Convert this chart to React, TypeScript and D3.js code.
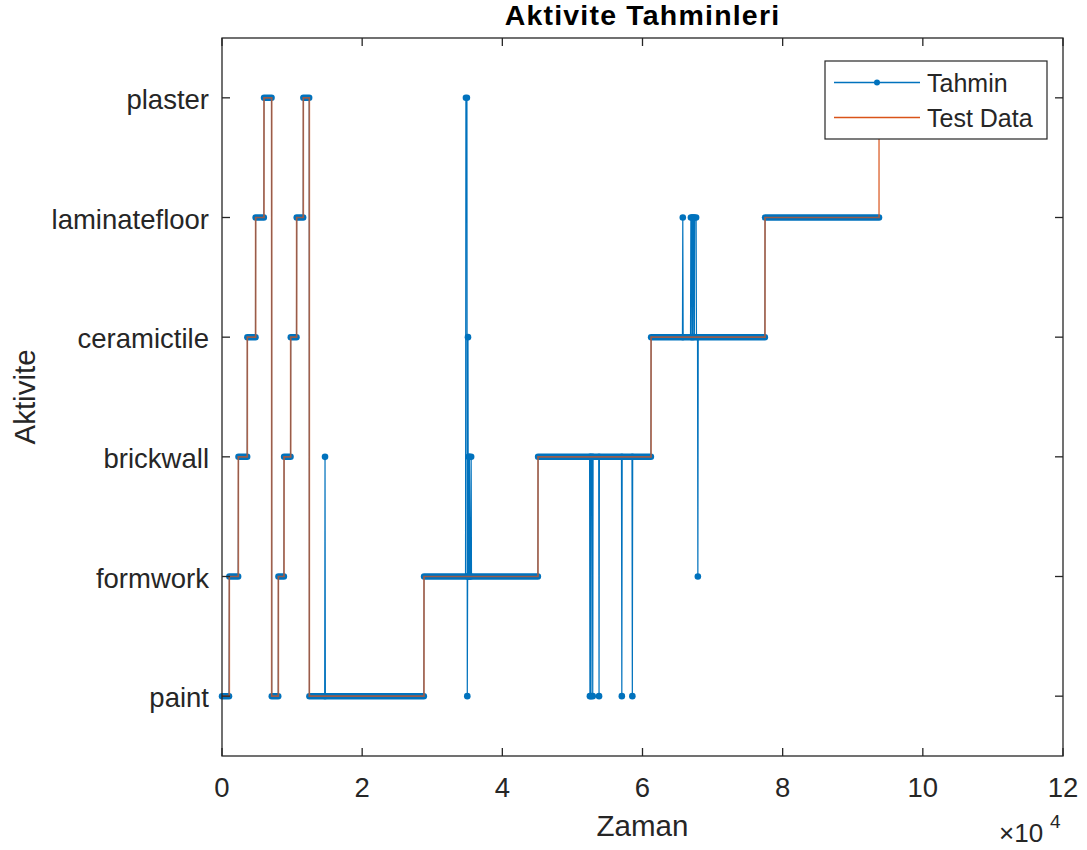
import React from "react";
import * as d3 from "d3";

const W = 1087;
const H = 850;

const categories = ["paint", "formwork", "brickwall", "ceramictile", "laminatefloor", "plaster"];
const xTicks = [0, 20000, 40000, 60000, 80000, 100000, 120000];
const xTickLabels = ["0", "2", "4", "6", "8", "10", "12"];

// Test Data: the time at which each activity starts
const testTimes = [0, 1040, 2330, 3610, 4800, 5990, 7090, 8040, 8850, 9800, 10650, 11600, 12460, 28820, 45090, 61220, 77480, 93750];
const testClasses = [
  "paint", "formwork", "brickwall", "ceramictile", "laminatefloor", "plaster",
  "paint", "formwork", "brickwall", "ceramictile", "laminatefloor", "plaster",
  "paint", "formwork", "brickwall", "ceramictile", "laminatefloor", "plaster",
];

// Tahmin: runs of the same predicted class [start, end, class]
const predRuns: [number, number, string][] = [
  [0, 1000, "paint"],
  [1050, 2300, "formwork"],
  [2350, 3590, "brickwall"],
  [3620, 4780, "ceramictile"],
  [4800, 5970, "laminatefloor"],
  [6000, 7070, "plaster"],
  [7100, 8020, "paint"],
  [8050, 8830, "formwork"],
  [8860, 9780, "brickwall"],
  [9810, 10630, "ceramictile"],
  [10660, 11580, "laminatefloor"],
  [11610, 12440, "plaster"],
  [12470, 14650, "paint"],
  [14700, 14700, "brickwall"],
  [14750, 28800, "paint"],
  [28830, 34750, "formwork"],
  [34800, 34950, "plaster"],
  [35000, 35000, "paint"],
  [35050, 35050, "formwork"],
  [35100, 35100, "ceramictile"],
  [35150, 35150, "formwork"],
  [35200, 35200, "brickwall"],
  [35250, 35250, "formwork"],
  [35300, 35300, "brickwall"],
  [35350, 35450, "formwork"],
  [35550, 35550, "brickwall"],
  [35600, 45070, "formwork"],
  [45100, 52450, "brickwall"],
  [52500, 52500, "paint"],
  [52550, 52600, "brickwall"],
  [52650, 52650, "paint"],
  [52700, 52850, "brickwall"],
  [52900, 52900, "paint"],
  [52950, 53750, "brickwall"],
  [53800, 53800, "paint"],
  [53850, 57000, "brickwall"],
  [57050, 57050, "paint"],
  [57100, 58500, "brickwall"],
  [58550, 58550, "paint"],
  [58600, 61200, "brickwall"],
  [61230, 65700, "ceramictile"],
  [65750, 65750, "laminatefloor"],
  [65800, 66850, "ceramictile"],
  [66900, 67000, "laminatefloor"],
  [67050, 67050, "ceramictile"],
  [67100, 67150, "laminatefloor"],
  [67200, 67200, "ceramictile"],
  [67250, 67350, "laminatefloor"],
  [67400, 67400, "ceramictile"],
  [67450, 67650, "laminatefloor"],
  [67700, 67850, "ceramictile"],
  [67900, 67900, "formwork"],
  [67950, 77460, "ceramictile"],
  [77490, 93750, "laminatefloor"],
];

const BLUE = "#0072BD";
const ORANGE = "#D95319";
const AXIS = "#262626";
const FONT = "'Liberation Sans', Arial, Helvetica, sans-serif";

export default function App() {
  const left = 222, right = 1063, top = 38, bottom = 756;
  const x = d3.scaleLinear().domain([0, 120000]).range([left, right]);
  const y = d3.scaleLinear().domain([0.5, 6.5]).range([bottom, top]);
  const yc = (c: string) => y(categories.indexOf(c) + 1);

  const predPts: [number, number][] = [];
  predRuns.forEach(([s, e, c]) => {
    predPts.push([x(s), yc(c)]);
    if (e > s) predPts.push([x(e), yc(c)]);
  });
  const predLine = d3.line()(predPts) || "";

  const testLine =
    d3
      .line<number>()
      .x((t) => x(t))
      .y((t, i) => yc(testClasses[i]))
      .curve(d3.curveStepAfter)(testTimes) || "";

  const tick = 8;

  return (
    <div style={{ position: "absolute", left: 0, top: 0 }}>
      <svg width={W} height={H} style={{ display: "block", background: "#fff" }} fontFamily={FONT}>
        <rect x={0} y={0} width={W} height={H} fill="#fff" />

        {/* prediction */}
        <path d={predLine} fill="none" stroke={BLUE} strokeWidth={1.2} />
        {predRuns
          .filter(([s, e]) => e > s)
          .map(([s, e, c], i) => (
            <line key={"b" + i} x1={x(s)} x2={x(e)} y1={yc(c)} y2={yc(c)} stroke={BLUE} strokeWidth={6.5} strokeLinecap="round" />
          ))}
        {predRuns
          .filter(([s, e]) => e === s)
          .map(([s, , c], i) => (
            <circle key={"d" + i} cx={x(s)} cy={yc(c)} r={3.3} fill={BLUE} />
          ))}

        {/* test data */}
        <path d={testLine} fill="none" stroke={ORANGE} strokeWidth={1.7} strokeOpacity={0.7} />

        {/* axes box */}
        <rect x={left} y={top} width={right - left} height={bottom - top} fill="none" stroke={AXIS} strokeWidth={1.3} />
        {xTicks.map((t, i) => (
          <g key={"xt" + i}>
            <line x1={x(t)} x2={x(t)} y1={bottom} y2={bottom - tick} stroke={AXIS} strokeWidth={1.3} />
            <line x1={x(t)} x2={x(t)} y1={top} y2={top + tick} stroke={AXIS} strokeWidth={1.3} />
            <text x={x(t)} y={797} textAnchor="middle" fontSize={27.5} fill={AXIS}>
              {xTickLabels[i]}
            </text>
          </g>
        ))}
        {categories.map((c, i) => (
          <g key={"yt" + i}>
            <line x1={left} x2={left + tick} y1={y(i + 1)} y2={y(i + 1)} stroke={AXIS} strokeWidth={1.3} />
            <line x1={right} x2={right - tick} y1={y(i + 1)} y2={y(i + 1)} stroke={AXIS} strokeWidth={1.3} />
            <text x={209} y={y(i + 1) + 11} textAnchor="end" fontSize={27.5} fill={AXIS}>
              {c}
            </text>
          </g>
        ))}

        {/* exponent */}
        <text x={999} y={842} fontSize={26} fill={AXIS}>
          ×10
        </text>
        <text x={1050} y={828} fontSize={19} fill={AXIS}>
          4
        </text>

        {/* labels */}
        <text x={(left + right) / 2} y={836} textAnchor="middle" fontSize={29.5} fill={AXIS}>
          Zaman
        </text>
        <text transform={`translate(35,${(top + bottom) / 2}) rotate(-90)`} textAnchor="middle" fontSize={29.5} fill={AXIS}>
          Aktivite
        </text>
        <text x={(left + right) / 2} y={25} textAnchor="middle" fontSize={28.5} fontWeight="bold" letterSpacing={1.2} fill="#000">
          Aktivite Tahminleri
        </text>

        {/* legend */}
        <g>
          <rect x={825} y={61} width={222} height={78} fill="#fff" stroke={AXIS} strokeWidth={1.2} />
          <line x1={834} x2={920} y1={82.5} y2={82.5} stroke={BLUE} strokeWidth={1.5} />
          <circle cx={877} cy={82.5} r={3} fill={BLUE} />
          <text x={927} y={92} fontSize={25} fill={AXIS}>
            Tahmin
          </text>
          <line x1={834} x2={920} y1={117.5} y2={117.5} stroke={ORANGE} strokeWidth={1.5} />
          <text x={927} y={127} fontSize={25} fill={AXIS}>
            Test Data
          </text>
        </g>
      </svg>
    </div>
  );
}
